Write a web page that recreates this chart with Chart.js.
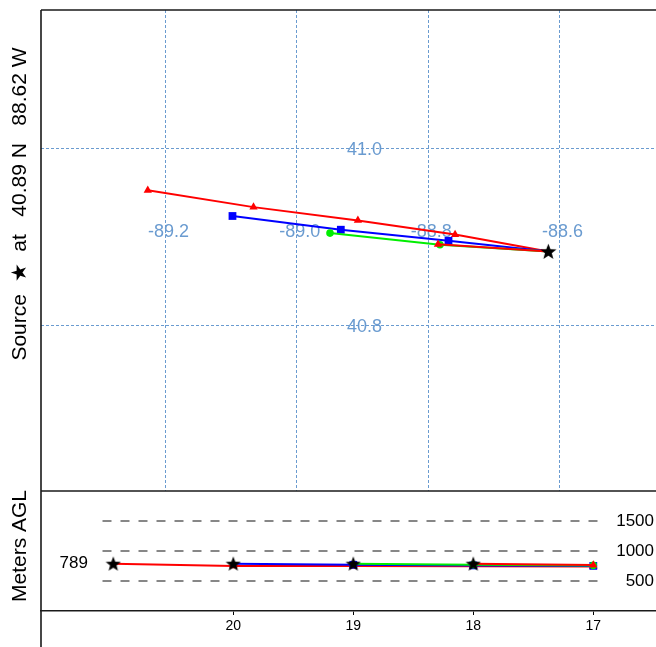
<!DOCTYPE html>
<html><head><meta charset="utf-8">
<script src="https://cdn.jsdelivr.net/npm/chart.js@4"></script>
<style>html,body{margin:0;padding:0;background:#fff;width:656px;height:647px;overflow:hidden}
canvas{position:absolute;left:0;top:0}</style></head>
<body>
<canvas id="map" width="656" height="647"></canvas>
<canvas id="vert" width="656" height="647"></canvas>
<script>
// ---- data ----
const sourceLon = -88.617, sourceLat = 40.884, sourceHeight = 789;
const startHours = [21, 20, 19, 18];
const red1Lon = [-88.759, -88.907, -89.066, -89.227];
const red1Lat = [40.903, 40.919, 40.934, 40.953];
const red1Hours = [20, 19, 18, 17];
const red1Hgt = [752, 748, 745, 742];
const blueLon = [-88.769, -88.933, -89.098];
const blueLat = [40.896, 40.9085, 40.924];
const blueHours = [19, 18, 17];
const blueHgt = [770, 760, 752];
const greenLon = [-88.782, -88.9495];
const greenLat = [40.8915, 40.9047];
const greenHours = [18, 17];
const greenHgt = [772, 760];
const red2Lon = [-88.785];
const red2Lat = [40.892];
const red2Hours = [17];
const red2Hgt = [765];
const lonTicks = [-89.2, -89.0, -88.8, -88.6];
const latTicks = [41.0, 40.8];
const hourTicks = [20, 19, 18, 17];
const levels = [500, 1000, 1500];
const sourceLabel = 'Source  \u2605  at   40.89 N   88.62 W';

const FONT = '"Liberation Sans", Arial, Helvetica, sans-serif';
const GRIDC = '#6a9bd0';
const RED = '#ff0000', BLUE = '#0000ff', GREEN = '#00ee00';

function makeStar(size) {
  const c = document.createElement('canvas');
  c.width = c.height = size;
  const g = c.getContext('2d');
  const R = size / 2, r = R * 0.42, cx = size / 2, cy = size / 2 + size * 0.04;
  g.beginPath();
  for (let i = 0; i < 10; i++) {
    const a = -Math.PI / 2 + i * Math.PI / 5;
    const rr = i % 2 === 0 ? R : r;
    g.lineTo(cx + rr * Math.cos(a), cy + rr * Math.sin(a));
  }
  g.closePath();
  g.fillStyle = '#000';
  g.fill();
  return c;
}
const starBig = makeStar(17);
const starSmall = makeStar(16);

function traj(lons, lats) {
  const pts = [{x: sourceLon, y: sourceLat}];
  lons.forEach((v, i) => pts.push({x: v, y: lats[i]}));
  return pts;
}
function vtraj(start, hours, hgts) {
  const pts = [{x: start, y: sourceHeight}];
  hours.forEach((h, i) => pts.push({x: h, y: hgts[i]}));
  return pts;
}
function lineDs(data, color, style, rad) {
  return {
    data, borderColor: color, backgroundColor: color, borderWidth: 2,
    showLine: true, tension: 0, pointStyle: style,
    pointRadius: c => c.dataIndex === 0 ? 0 : rad,
    pointBorderWidth: 0, pointHoverRadius: 0
  };
}

const mapDecor = {
  id: 'mapDecor',
  beforeDatasetsDraw(chart) {
    const {ctx, scales: {x, y}} = chart;
    ctx.save();
    ctx.fillStyle = GRIDC;
    ctx.font = '18px ' + FONT;
    ctx.textAlign = 'center';
    ctx.textBaseline = 'middle';
    latTicks.forEach(v => ctx.fillText(v.toFixed(1), x.getPixelForValue(-88.897), y.getPixelForValue(v) + 1));
    lonTicks.forEach(v => ctx.fillText(v.toFixed(1), x.getPixelForValue(v) + 3, y.getPixelForValue(40.906)));
    ctx.restore();
  },
  afterDraw(chart) {
    const {ctx, chartArea: a} = chart;
    ctx.save();
    ctx.strokeStyle = '#1a1a1a';
    ctx.lineWidth = 1.6;
    ctx.beginPath();
    ctx.moveTo(a.left, a.top); ctx.lineTo(a.right, a.top);
    ctx.moveTo(a.left, a.top); ctx.lineTo(a.left, 647);
    ctx.stroke();
    ctx.translate(20, 204);
    ctx.rotate(-Math.PI / 2);
    ctx.fillStyle = '#000';
    ctx.font = '21px ' + FONT;
    ctx.textAlign = 'center';
    ctx.textBaseline = 'middle';
    ctx.fillText(sourceLabel, 0, 0);
    ctx.restore();
  }
};

new Chart(document.getElementById('map'), {
  type: 'scatter',
  data: {
    datasets: [
      {data: [{x: sourceLon, y: sourceLat}], pointStyle: starBig, pointRadius: 8, showLine: false},
      lineDs(traj(red2Lon, red2Lat), RED, 'triangle', 4.8),
      lineDs(traj(greenLon, greenLat), GREEN, 'circle', 3.8),
      lineDs(traj(blueLon, blueLat), BLUE, 'rect', 5.5),
      lineDs(traj(red1Lon, red1Lat), RED, 'triangle', 4.8)
    ]
  },
  options: {
    responsive: false, animation: false, devicePixelRatio: 1,
    layout: {autoPadding: false, padding: {left: 41, top: 10, right: 0, bottom: 156}},
    plugins: {legend: {display: false}, tooltip: {enabled: false}},
    events: [],
    scales: {
      x: {
        type: 'linear', min: -89.3896, max: -88.453,
        afterBuildTicks: s => { s.ticks = lonTicks.map(v => ({value: v})); },
        afterFit: s => { s.height = 0; },
        ticks: {display: false},
        border: {display: false, dash: [3, 2]},
        grid: {color: GRIDC, lineWidth: 1, drawTicks: false}
      },
      y: {
        type: 'linear', min: 40.6136, max: 41.1565,
        afterBuildTicks: s => { s.ticks = latTicks.map(v => ({value: v})); },
        afterFit: s => { s.width = 0; },
        ticks: {display: false},
        border: {display: false, dash: [3, 2]},
        grid: {color: GRIDC, lineWidth: 1, drawTicks: false}
      }
    }
  },
  plugins: [mapDecor]
});

const vertDecor = {
  id: 'vertDecor',
  afterDraw(chart) {
    const {ctx, chartArea: a, scales: {x, y}} = chart;
    ctx.save();
    ctx.strokeStyle = '#1a1a1a';
    ctx.lineWidth = 1.6;
    ctx.beginPath();
    ctx.moveTo(a.left, a.top); ctx.lineTo(a.right, a.top);
    ctx.stroke();
    ctx.fillStyle = '#000';
    ctx.font = '17px ' + FONT;
    ctx.textBaseline = 'middle';
    ctx.textAlign = 'right';
    levels.forEach(v => ctx.fillText(String(v), 654, y.getPixelForValue(v)));
    ctx.textAlign = 'center';
    ctx.fillText(String(sourceHeight), x.getPixelForValue(21.33), y.getPixelForValue(sourceHeight));
    ctx.translate(20, 546);
    ctx.rotate(-Math.PI / 2);
    ctx.font = '21px ' + FONT;
    ctx.fillText('Meters AGL', 0, 0);
    ctx.restore();
  }
};

const levelDs = levels.map(v => ({
  data: [{x: 21.09, y: v}, {x: 16.93, y: v}],
  showLine: true, borderColor: '#111', borderWidth: 1, borderDash: [9, 9],
  pointRadius: 0, order: 10
}));

new Chart(document.getElementById('vert'), {
  type: 'scatter',
  data: {
    datasets: [
      {data: startHours.map(h => ({x: h, y: sourceHeight})), pointStyle: starSmall, pointRadius: 8, showLine: false},
      lineDs(vtraj(18, red2Hours, red2Hgt), RED, 'triangle', 4.8),
      lineDs(vtraj(19, greenHours, greenHgt), GREEN, 'circle', 3.8),
      lineDs(vtraj(20, blueHours, blueHgt), BLUE, 'rect', 5.5),
      lineDs(vtraj(21, red1Hours, red1Hgt), RED, 'triangle', 4.8),
      ...levelDs
    ]
  },
  options: {
    responsive: false, animation: false, devicePixelRatio: 1,
    layout: {autoPadding: false, padding: {left: 41, top: 491, right: 0, bottom: 0}},
    plugins: {legend: {display: false}, tooltip: {enabled: false}},
    events: [],
    scales: {
      x: {
        type: 'linear', reverse: true, min: 16.4775, max: 21.6025,
        afterBuildTicks: s => { s.ticks = hourTicks.map(v => ({value: v})); },
        afterFit: s => { s.height = 36; },
        ticks: {display: true, color: '#000', padding: 3, font: {family: FONT, size: 14}, callback: v => String(v)},
        border: {display: true, color: '#1a1a1a', width: 1.6},
        grid: {display: true, drawOnChartArea: false, drawTicks: true, tickLength: 4, color: '#000', lineWidth: 1}
      },
      y: {
        type: 'linear', min: 0, max: 2000,
        afterFit: s => { s.width = 0; },
        ticks: {display: false},
        border: {display: false},
        grid: {display: false}
      }
    }
  },
  plugins: [vertDecor]
});
</script>
</body></html>
